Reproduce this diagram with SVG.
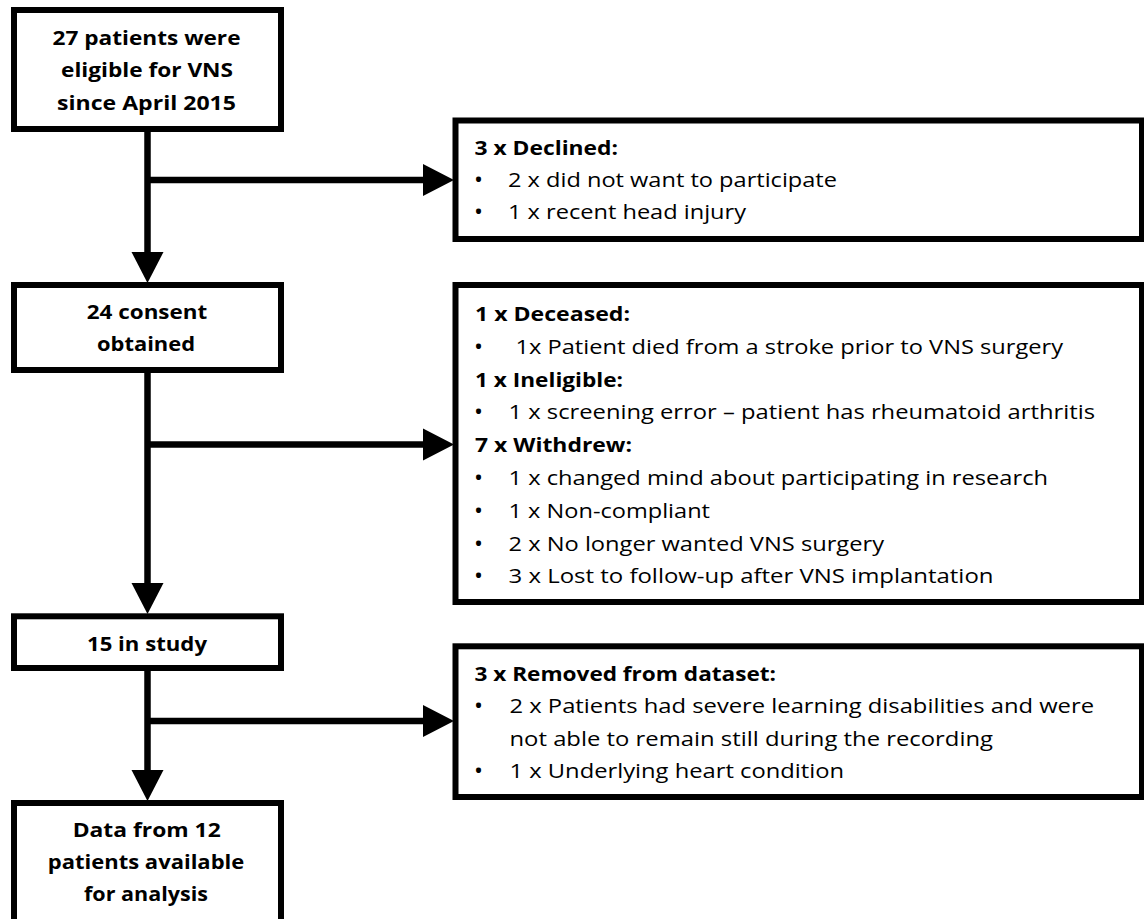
<svg xmlns="http://www.w3.org/2000/svg" width="1144" height="919" viewBox="0 0 1144 919">
<style>
.box{fill:#fff;stroke:#000;stroke-width:6}
.con{fill:none;stroke:#000;stroke-width:6.5}
.t{font-family:"Open Sans","Liberation Sans",sans-serif;font-size:20px;fill:#000}
.u{font-family:"Open Sans","Liberation Sans",sans-serif;font-size:24px;fill:#000}
.b{font-weight:bold}
.c{text-anchor:middle}
</style>
<defs>
<marker id="ah" markerUnits="userSpaceOnUse" markerWidth="31" markerHeight="33" refX="1" refY="16.5" orient="auto">
<path d="M0,0.5 L31,16.5 L0,32.5 z" fill="#000"/>
</marker>
</defs>
<rect width="1144" height="919" fill="#fff"/>
<g id="connectors">
<path class="con" d="M147.5,129 V253" marker-end="url(#ah)"/>
<path class="con" d="M147.5,180 H424" marker-end="url(#ah)"/>
<path class="con" d="M147.5,370 V584" marker-end="url(#ah)"/>
<path class="con" d="M147.5,444.5 H424" marker-end="url(#ah)"/>
<path class="con" d="M147.5,668 V771" marker-end="url(#ah)"/>
<path class="con" d="M147.5,721 H424" marker-end="url(#ah)"/>
</g>
<g id="n1">
<rect class="box" x="14" y="10" width="267" height="119"/>
<text class="t b c" x="146.5" y="45" textLength="188" lengthAdjust="spacingAndGlyphs">27 patients were</text>
<text class="t b c" x="147" y="77.3" textLength="172" lengthAdjust="spacingAndGlyphs">eligible for VNS</text>
<text class="t b c" x="146.5" y="110" textLength="179" lengthAdjust="spacingAndGlyphs">since April 2015</text>
</g>
<g id="n2">
<rect class="box" x="14" y="285" width="267" height="85"/>
<text class="t b c" x="147" y="319.3" textLength="120.5" lengthAdjust="spacingAndGlyphs">24 consent</text>
<text class="t b c" x="146" y="350.7" textLength="98" lengthAdjust="spacingAndGlyphs">obtained</text>
</g>
<g id="n3">
<rect class="box" x="14" y="616.3" width="267" height="51.7"/>
<text class="t b c" x="147" y="650.7" textLength="120" lengthAdjust="spacingAndGlyphs">15 in study</text>
</g>
<g id="n4">
<rect class="box" x="14" y="803" width="267" height="140"/>
<text class="t b c" x="146.7" y="837" textLength="148" lengthAdjust="spacingAndGlyphs">Data from 12</text>
<text class="t b c" x="146" y="869" textLength="196.5" lengthAdjust="spacingAndGlyphs">patients available</text>
<text class="t b c" x="146" y="901" textLength="124" lengthAdjust="spacingAndGlyphs">for analysis</text>
</g>
<g id="declined">
<rect class="box" x="455.5" y="120.5" width="686.5" height="118.5"/>
<text class="t b" x="474.5" y="155" textLength="143.5" lengthAdjust="spacingAndGlyphs">3 x Declined:</text>
<text class="u" x="474" y="188">•</text>
<text class="t" x="508" y="187" textLength="329" lengthAdjust="spacingAndGlyphs">2 x did not want to participate</text>
<text class="u" x="474" y="220">•</text>
<text class="t" x="508" y="219" textLength="238" lengthAdjust="spacingAndGlyphs">1 x recent head injury</text>
</g>
<g id="excluded">
<rect class="box" x="455.5" y="285" width="686.5" height="317"/>
<text class="t b" x="475" y="321" textLength="155" lengthAdjust="spacingAndGlyphs">1 x Deceased:</text>
<text class="u" x="474" y="355">•</text>
<text class="t" x="515.5" y="354" textLength="547.5" lengthAdjust="spacingAndGlyphs">1x Patient died from a stroke prior to VNS surgery</text>
<text class="t b" x="475" y="386.6" textLength="148" lengthAdjust="spacingAndGlyphs">1 x Ineligible:</text>
<text class="u" x="474" y="420.4">•</text>
<text class="t" x="508.5" y="419.4" textLength="586.5" lengthAdjust="spacingAndGlyphs">1 x screening error – patient has rheumatoid arthritis</text>
<text class="t b" x="475" y="452.2" textLength="157" lengthAdjust="spacingAndGlyphs">7 x Withdrew:</text>
<text class="u" x="474" y="486">•</text>
<text class="t" x="508.5" y="485" textLength="539.5" lengthAdjust="spacingAndGlyphs">1 x changed mind about participating in research</text>
<text class="u" x="474" y="518.8">•</text>
<text class="t" x="508.5" y="517.8" textLength="201.5" lengthAdjust="spacingAndGlyphs">1 x Non-compliant</text>
<text class="u" x="474" y="551.6">•</text>
<text class="t" x="508.5" y="550.6" textLength="375.5" lengthAdjust="spacingAndGlyphs">2 x No longer wanted VNS surgery</text>
<text class="u" x="474" y="584.4">•</text>
<text class="t" x="508.5" y="583.4" textLength="485" lengthAdjust="spacingAndGlyphs">3 x Lost to follow-up after VNS implantation</text>
</g>
<g id="removed">
<rect class="box" x="455.5" y="646.3" width="686.5" height="150.7"/>
<text class="t b" x="474.5" y="680.7" textLength="301.5" lengthAdjust="spacingAndGlyphs">3 x Removed from dataset:</text>
<text class="u" x="474" y="714.3">•</text>
<text class="t" x="509.5" y="713.3" textLength="584.5" lengthAdjust="spacingAndGlyphs">2 x Patients had severe learning disabilities and were</text>
<text class="t" x="509.5" y="745.5" textLength="483.5" lengthAdjust="spacingAndGlyphs">not able to remain still during the recording</text>
<text class="u" x="474" y="779.3">•</text>
<text class="t" x="509.5" y="778.3" textLength="334.5" lengthAdjust="spacingAndGlyphs">1 x Underlying heart condition</text>
</g>
</svg>
